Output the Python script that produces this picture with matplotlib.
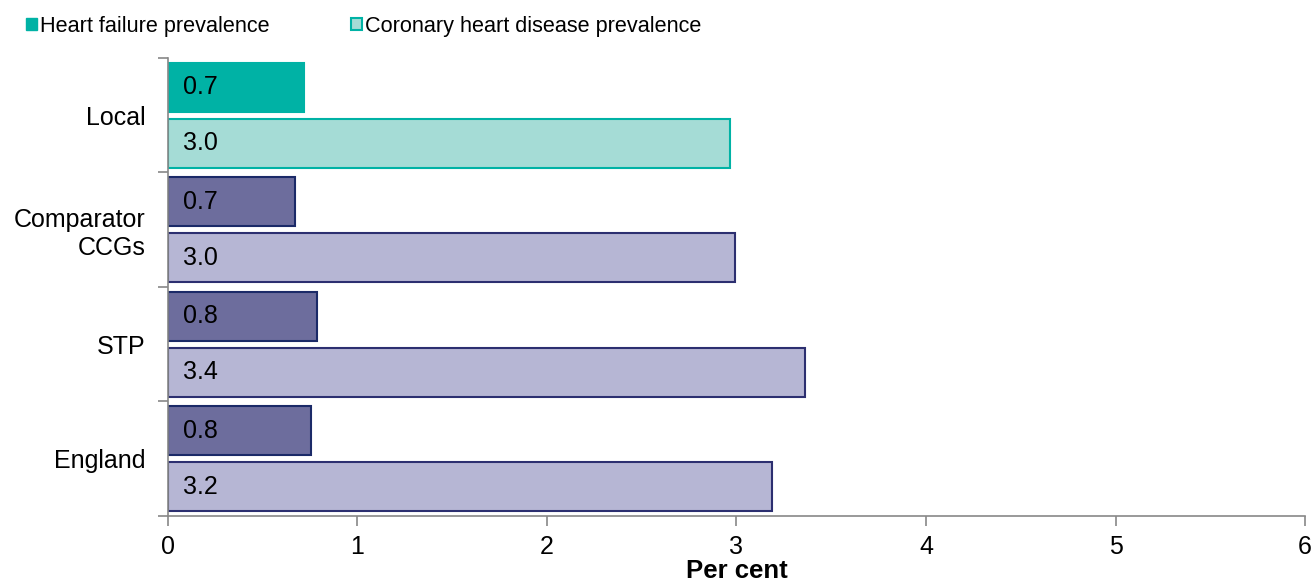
import matplotlib
matplotlib.use("Agg")
import matplotlib.pyplot as plt
from matplotlib.patches import Patch

plt.rcParams['font.family'] = ['Liberation Sans', 'DejaVu Sans']

categories = ["Local", "Comparator\nCCGs", "STP", "England"]
heart_failure = [0.72, 0.67, 0.785, 0.755]
chd = [2.965, 2.99, 3.36, 3.19]
hf_labels = ["0.7", "0.7", "0.8", "0.8"]
chd_labels = ["3.0", "3.0", "3.4", "3.2"]
xticks = [0, 1, 2, 3, 4, 5, 6]

teal = "#00B2A5"
teal_light = "#A5DCD6"
hf_fill = "#6D6D9D"
hf_edge = "#1B2A68"
chd_fill = "#B6B6D4"
chd_edge = "#2C2F70"

fig = plt.figure(figsize=(13.12, 5.82), dpi=100)
ax = fig.add_axes([0.128, 0.1134, 0.8667, 0.787])

off = 0.245
h = 0.43
ypos = list(range(len(categories)))
for i, y in enumerate(ypos):
    if i == 0:
        f1, e1, f2, e2 = teal, teal, teal_light, teal
    else:
        f1, e1, f2, e2 = hf_fill, hf_edge, chd_fill, chd_edge
    ax.barh(y - off, heart_failure[i], height=h, color=f1, edgecolor=e1, linewidth=1.5)
    ax.barh(y + off, chd[i], height=h, color=f2, edgecolor=e2, linewidth=1.5)
    ax.text(0.08, y - off, hf_labels[i], va='center', ha='left', fontsize=18, color='black')
    ax.text(0.08, y + off, chd_labels[i], va='center', ha='left', fontsize=18, color='black')

ax.set_ylim(len(categories) - 0.5, -0.5)
ax.set_xlim(0, 6)
ax.set_yticks(ypos)
ax.set_yticklabels(categories, fontsize=18, linespacing=1.2)
ax.set_yticks([i - 0.5 for i in range(len(categories) + 1)], minor=True)
ax.tick_params(axis='y', which='major', length=0, pad=16)
ax.tick_params(axis='y', which='minor', length=7, color='#888888', width=1.2)
ax.set_xticks(xticks)
ax.set_xticklabels([str(x) for x in xticks], fontsize=18)
ax.tick_params(axis='x', length=7, color='#888888', width=1.2, pad=7)
for s in ['top', 'right']:
    ax.spines[s].set_visible(False)
for s in ['left', 'bottom']:
    ax.spines[s].set_color('#888888')
    ax.spines[s].set_linewidth(1.2)
ax.set_xlabel("Per cent", fontsize=18.5, fontweight='bold', labelpad=0)

handles = [Patch(facecolor=teal, edgecolor=teal),
           Patch(facecolor=teal_light, edgecolor=teal, linewidth=1.5)]
fig.legend(handles, ["Heart failure prevalence", "Coronary heart disease prevalence"],
           loc='upper left', bbox_to_anchor=(0.005, 1.006), ncol=2, frameon=False,
           fontsize=15.6, handlelength=0.5, handleheight=0.5, handletextpad=0.15,
           columnspacing=3.75)

fig.savefig("out.png", dpi=100)
